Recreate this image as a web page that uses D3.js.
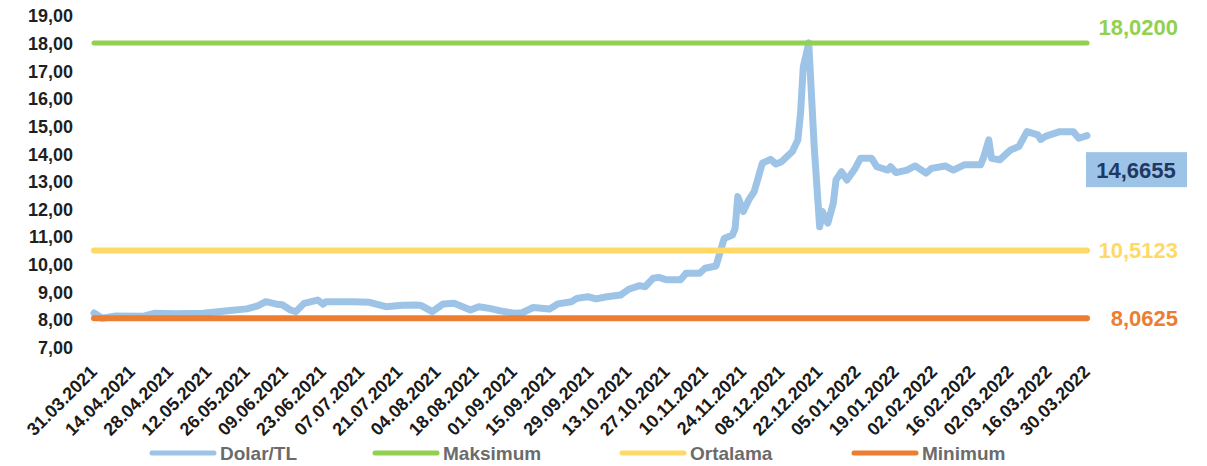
<!DOCTYPE html>
<html>
<head>
<meta charset="utf-8">
<script src="https://cdn.jsdelivr.net/npm/d3@7"></script>
<style>
  html, body { margin: 0; padding: 0; background: #fff; }
  svg { display: block; font-family: "Liberation Sans", Arial, sans-serif; }
</style>
</head>
<body>
<svg id="chart" width="1207" height="466"></svg>
<script>
// Dolar/TL daily rate with maximum, average and minimum reference lines
const dates = [
  "31.03.2021","03.04.2021","08.04.2021","18.04.2021","22.04.2021","30.04.2021",
  "10.05.2021","19.05.2021","26.05.2021","30.05.2021","02.06.2021","06.06.2021",
  "08.06.2021","11.06.2021","13.06.2021","16.06.2021","21.06.2021","23.06.2021",
  "24.06.2021","04.07.2021","10.07.2021","16.07.2021","22.07.2021","27.07.2021",
  "29.07.2021","02.08.2021","06.08.2021","10.08.2021","16.08.2021","19.08.2021",
  "23.08.2021","27.08.2021","01.09.2021","04.09.2021","08.09.2021","14.09.2021",
  "17.09.2021","22.09.2021","24.09.2021","28.09.2021","01.10.2021","05.10.2021",
  "10.10.2021","13.10.2021","17.10.2021","19.10.2021","22.10.2021","24.10.2021",
  "27.10.2021","01.11.2021","03.11.2021","08.11.2021","10.11.2021","14.11.2021",
  "17.11.2021","20.11.2021","21.11.2021","22.11.2021","24.11.2021","26.11.2021",
  "28.11.2021","01.12.2021","04.12.2021","06.12.2021","08.12.2021","12.12.2021",
  "14.12.2021","15.12.2021","16.12.2021","17.12.2021","18.12.2021","20.12.2021",
  "22.12.2021","23.12.2021","25.12.2021","27.12.2021","28.12.2021","30.12.2021",
  "01.01.2022","04.01.2022","06.01.2022","10.01.2022","12.01.2022","16.01.2022",
  "17.01.2022","19.01.2022","23.01.2022","26.01.2022","30.01.2022","01.02.2022",
  "06.02.2022","09.02.2022","13.02.2022","19.02.2022","20.02.2022","22.02.2022",
  "23.02.2022","26.02.2022","02.03.2022","05.03.2022","08.03.2022","12.03.2022",
  "13.03.2022","15.03.2022","20.03.2022","25.03.2022","27.03.2022","30.03.2022"
];
const dolarTL = [
  8.25, 8.0625, 8.14, 8.13, 8.24, 8.22,
  8.24, 8.33, 8.40, 8.51, 8.66, 8.57,
  8.55, 8.36, 8.30, 8.60, 8.72, 8.57,
  8.66, 8.66, 8.64, 8.48, 8.53, 8.54,
  8.52, 8.30, 8.58, 8.60, 8.36, 8.48,
  8.42, 8.33, 8.24, 8.26, 8.45, 8.40,
  8.58, 8.66, 8.78, 8.84, 8.76, 8.84,
  8.90, 9.11, 9.24, 9.20, 9.51, 9.54,
  9.45, 9.45, 9.69, 9.69, 9.87, 9.95,
  10.95, 11.07, 11.30, 12.46, 11.92, 12.34,
  12.64, 13.67, 13.81, 13.64, 13.72, 14.09,
  14.51, 15.48, 17.16, 17.58, 18.02, 14.27,
  11.37, 11.92, 11.50, 12.22, 13.06, 13.36,
  13.06, 13.48, 13.85, 13.85, 13.54, 13.42,
  13.54, 13.33, 13.42, 13.57, 13.31, 13.48,
  13.57, 13.42, 13.61, 13.61, 13.85, 14.51,
  13.85, 13.79, 14.15, 14.27, 14.81, 14.69,
  14.53, 14.65, 14.81, 14.81, 14.57, 14.6655
];
const maksimum = 18.02;
const ortalama = 10.5123;
const minimum = 8.0625;

const yTickValues = [7, 8, 9, 10, 11, 12, 13, 14, 15, 16, 17, 18, 19];
const xTickLabels = [
  "31.03.2021","14.04.2021","28.04.2021","12.05.2021","26.05.2021","09.06.2021",
  "23.06.2021","07.07.2021","21.07.2021","04.08.2021","18.08.2021","01.09.2021",
  "15.09.2021","29.09.2021","13.10.2021","27.10.2021","10.11.2021","24.11.2021",
  "08.12.2021","22.12.2021","05.01.2022","19.01.2022","02.02.2022","16.02.2022",
  "02.03.2022","16.03.2022","30.03.2022"
];
const seriesNames = ["Dolar/TL", "Maksimum", "Ortalama", "Minimum"];
const colors = { "Dolar/TL": "#9DC3E6", "Maksimum": "#92D050", "Ortalama": "#FFD966", "Minimum": "#ED7D31" };

const parse = d3.timeParse("%d.%m.%Y");
const tr = d3.formatLocale({ decimal: ",", thousands: ".", grouping: [3], currency: ["", " TL"] });
const f2 = tr.format(".2f");
const f4 = tr.format(".4f");

const data = dates.map((d, i) => ({ date: parse(d), value: dolarTL[i] }));
const first = data[0].date, last = data[data.length - 1].date;

const svg = d3.select("#chart");
const x = d3.scaleTime().domain([first, last]).range([94, 1087]);
const y = d3.scaleLinear().domain([7, 19]).range([347.6, 15.8]);

// y axis labels
svg.append("g").selectAll("text").data(yTickValues).join("text")
  .attr("x", 73).attr("y", d => y(d)).attr("dy", "0.36em")
  .attr("text-anchor", "end")
  .attr("font-size", 18).attr("font-weight", "bold").attr("fill", "#1f1f1f")
  .text(d => f2(d));

// x axis labels, rotated
svg.append("g").selectAll("text").data(xTickLabels).join("text")
  .attr("transform", d => `translate(${x(parse(d)) + 4},${373}) rotate(-45)`)
  .attr("text-anchor", "end")
  .attr("font-size", 18).attr("font-weight", "bold").attr("fill", "#1a1a1a")
  .text(d => d);

// Dolar/TL line
const line = d3.line().x(d => x(d.date)).y(d => y(d.value));
svg.append("path").datum(data)
  .attr("d", line)
  .attr("fill", "none").attr("stroke", colors["Dolar/TL"])
  .attr("stroke-width", 7).attr("stroke-linejoin", "round").attr("stroke-linecap", "round");

// reference lines
const refs = [
  { name: "Maksimum", value: maksimum, width: 5 },
  { name: "Ortalama", value: ortalama, width: 6 },
  { name: "Minimum", value: minimum, width: 6 }
];
svg.append("g").selectAll("line").data(refs).join("line")
  .attr("x1", x(first)).attr("x2", x(last))
  .attr("y1", d => y(d.value)).attr("y2", d => y(d.value))
  .attr("stroke", d => colors[d.name]).attr("stroke-width", d => d.width)
  .attr("stroke-linecap", "round");

// value labels at the right
const labelX = 1178;
svg.append("g").selectAll("text").data(refs).join("text")
  .attr("x", labelX).attr("y", d => y(d.value) - (d.name === "Maksimum" ? 16 : 0)).attr("dy", "0.36em")
  .attr("text-anchor", "end")
  .attr("font-size", 22).attr("font-weight", "bold")
  .attr("fill", d => colors[d.name])
  .text(d => f4(d.value));

const lastVal = dolarTL[dolarTL.length - 1];
const box = svg.append("g").attr("transform", `translate(1136,${y(lastVal) + 34})`);
box.append("rect").attr("x", -50).attr("y", -17.5).attr("width", 101).attr("height", 35)
  .attr("fill", colors["Dolar/TL"]);
box.append("text").attr("text-anchor", "middle").attr("dy", "0.36em")
  .attr("font-size", 22).attr("font-weight", "bold").attr("fill", "#1F3864")
  .text(f4(lastVal));

// legend
const legendX = [150, 373, 620, 852];
const lg = svg.append("g").selectAll("g").data(seriesNames).join("g")
  .attr("transform", (d, i) => `translate(${legendX[i]},453)`);
lg.append("line").attr("x1", 2).attr("x2", 64).attr("y1", 0).attr("y2", 0)
  .attr("stroke", d => colors[d]).attr("stroke-width", 5).attr("stroke-linecap", "round");
lg.append("text").attr("x", 70).attr("dy", "0.36em")
  .attr("font-size", 19).attr("font-weight", "bold").attr("fill", "#6b6b6b")
  .text(d => d);
</script>
</body>
</html>
